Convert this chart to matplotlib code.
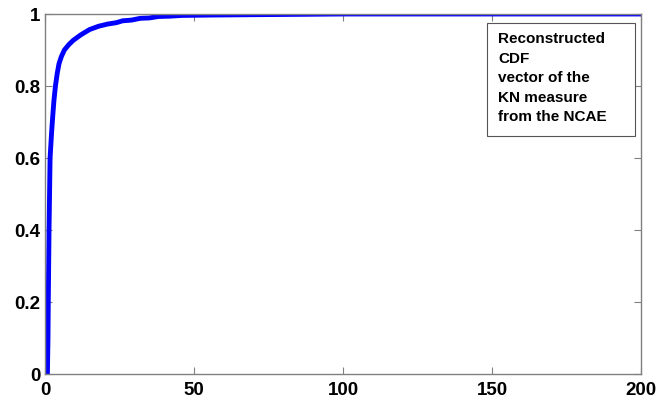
import matplotlib
matplotlib.use("Agg")
from matplotlib import pyplot as plt
from matplotlib.patches import Rectangle

# Values
kn_values = [0.8, 1.0, 1.1, 1.35, 1.7, 2.2, 2.6, 3.0, 3.5, 4.1, 4.7, 5.5,
             6.5, 8.0, 9.5, 12, 15, 18, 21, 24, 26, 29, 32, 35, 38, 42, 46,
             55, 69, 85, 100, 200]
cdf_values = [0.0, 0.1, 0.2, 0.4, 0.6, 0.67, 0.717, 0.76, 0.8, 0.835, 0.862,
              0.882, 0.9, 0.915, 0.927, 0.942, 0.957, 0.966, 0.972, 0.976,
              0.981, 0.983, 0.988, 0.989, 0.993, 0.994, 0.996, 0.997, 0.998,
              0.999, 1.0, 1.0]
x_ticks = [0, 50, 100, 150, 200]
y_ticks = [0, 0.2, 0.4, 0.6, 0.8, 1]
y_tick_labels = ["0", "0.2", "0.4", "0.6", "0.8", "1"]
note = "Reconstructed\nCDF\nvector of the\nKN measure\nfrom the NCAE"

plt.rcParams['font.family'] = ['Liberation Sans', 'DejaVu Sans']
plt.rcParams['font.weight'] = 'bold'

fig = plt.figure(figsize=(6.59, 4.02), dpi=100)
ax = fig.add_axes([0.0683, 0.0672, 0.9044, 0.8955])

ax.plot(kn_values, cdf_values, color='#0000ff', linewidth=3.5,
        solid_joinstyle='round', solid_capstyle='butt')

ax.set_xlim(0, 200)
ax.set_ylim(0, 1)
ax.set_xticks(x_ticks)
ax.set_yticks(y_ticks)
ax.set_yticklabels(y_tick_labels)
ax.tick_params(direction='in', length=5, width=0.8, color='#808080',
               top=True, right=True, labelsize=13.5)
ax.tick_params(axis='x', pad=5)
ax.tick_params(axis='y', pad=3.5)
for lab in ax.get_xticklabels() + ax.get_yticklabels():
    lab.set_fontweight('bold')
for sp in ax.spines.values():
    sp.set_color('#808080')
    sp.set_linewidth(1.0)

# note box drawn in axes fractions, text placed inside it
ax.add_patch(Rectangle((0.7416, 0.661), 0.2484, 0.314, transform=ax.transAxes,
                       facecolor='white', edgecolor='#555555', linewidth=0.8,
                       zorder=3))
ax.text(0.760, 0.952, note, transform=ax.transAxes, ha='left', va='top',
        fontsize=11, fontweight='bold', linespacing=1.5, zorder=4)

fig.savefig("out.png", dpi=100)
